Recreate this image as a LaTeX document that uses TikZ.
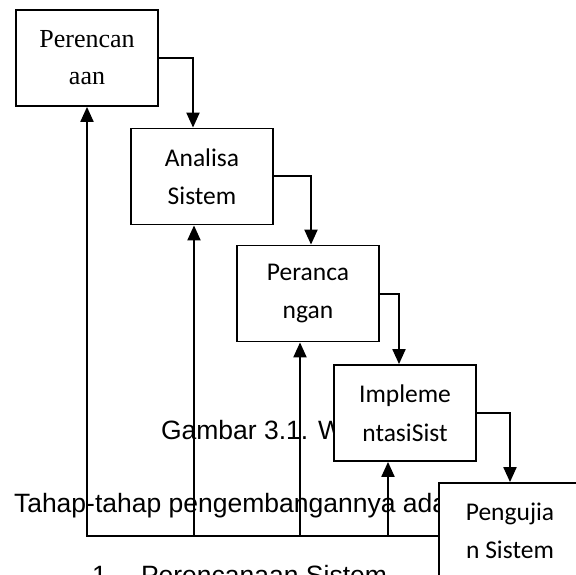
\documentclass[tikz,border=0pt]{standalone}
\usepackage{fontspec}
\usepackage{tikz}
\usetikzlibrary{arrows.meta}
\newfontfamily\docfont{Liberation Sans}
\newfontfamily\boxfont{Carlito}
\newfontfamily\serfont{Liberation Serif}

\tikzset{
  box/.style={draw,fill=white,line width=1.8pt,minimum width=142pt,minimum height=96pt,
    inner sep=0pt,align=center,font=\boxfont\fontsize{25.5}{38.5}\selectfont},
  serbox/.style={box,font=\serfont\fontsize{26}{37}\selectfont},
  doc/.style={inner sep=0pt,anchor=base west,font=\docfont\fontsize{26.5}{30}\selectfont}
}

\begin{document}
\begin{tikzpicture}[x=1pt,y=-1pt,line width=2pt,>={Triangle[width=13pt,length=15pt]}]
  \clip (0,0) rectangle (576,575);

  % text of the page behind the figure
  \node[doc] (cap)   at (160,439) {Gambar 3.1. W};
  \node[doc] (tahap) at (13,512)  {Tahap-tahap pengembangannya ada};
  \node[doc] (num)   at (91,584)  {1.};
  \node[doc] (item)  at (140,584) {Perencanaan Sistem};

  \node[serbox] (per)  at (87,58)    {Perencan\\aan};
  \node[box]    (ana)  at (202,176.5) {Analisa\\Sistem};
  \node[box]    (pcg)  at (308,293.5) {Peranca\\ngan};
  \node[box]    (imp)  at (405,413)  {Impleme\\ntasiSist};
  \node[box]    (peng) at (510,531)  {Pengujia\\n Sistem};

  \coordinate (base) at (87,536);

  \draw[->] (per.east) -| (193,0 |- ana.north);
  \draw[->] (ana.east) -| (311,0 |- pcg.north);
  \draw[->] (pcg.east) -| (399,0 |- imp.north);
  \draw[->] (imp.east) -| (peng.north);

  \draw[->] (peng.west |- base) -- (base) -- (per.south);
  \foreach \x/\n in {194/ana,300/pcg,388/imp}
    \draw[->] (\x,0 |- base) -- (\x,0 |- \n.south);
\end{tikzpicture}
\end{document}
